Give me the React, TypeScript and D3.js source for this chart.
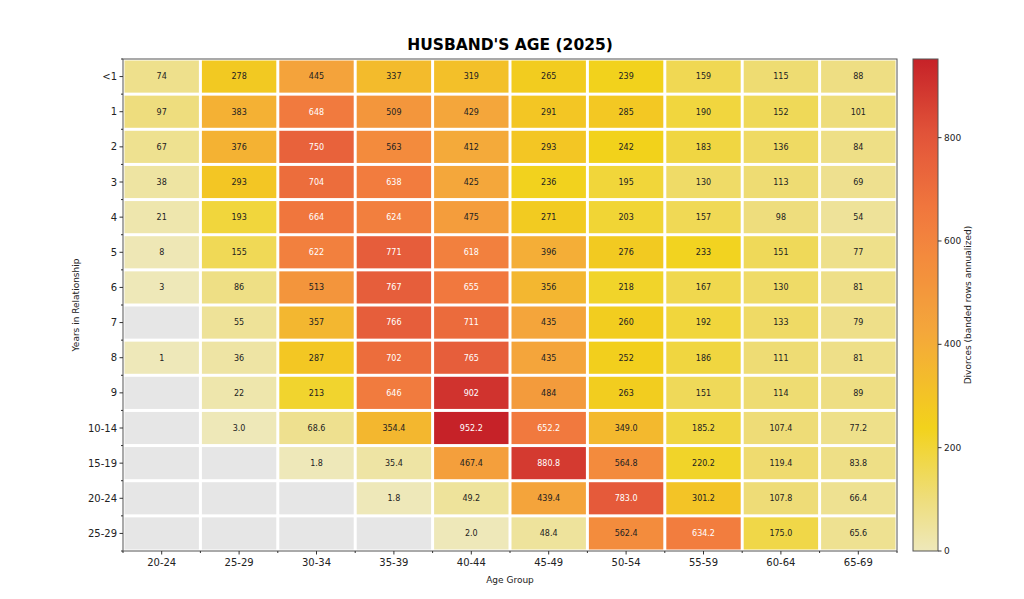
import React from 'react';
import * as d3 from 'd3';

const AGE_GROUPS = ['20-24', '25-29', '30-34', '35-39', '40-44', '45-49', '50-54', '55-59', '60-64', '65-69'];
const YEARS = ['<1', '1', '2', '3', '4', '5', '6', '7', '8', '9', '10-14', '15-19', '20-24', '25-29'];
// banded rows are annualized and shown with one decimal
const BANDED = ['10-14', '15-19', '20-24', '25-29'];

const VALUES: (number | null)[][] = [
  [74, 278, 445, 337, 319, 265, 239, 159, 115, 88],
  [97, 383, 648, 509, 429, 291, 285, 190, 152, 101],
  [67, 376, 750, 563, 412, 293, 242, 183, 136, 84],
  [38, 293, 704, 638, 425, 236, 195, 130, 113, 69],
  [21, 193, 664, 624, 475, 271, 203, 157, 98, 54],
  [8, 155, 622, 771, 618, 396, 276, 233, 151, 77],
  [3, 86, 513, 767, 655, 356, 218, 167, 130, 81],
  [null, 55, 357, 766, 711, 435, 260, 192, 133, 79],
  [1, 36, 287, 702, 765, 435, 252, 186, 111, 81],
  [null, 22, 213, 646, 902, 484, 263, 151, 114, 89],
  [null, 3.0, 68.6, 354.4, 952.2, 652.2, 349.0, 185.2, 107.4, 77.2],
  [null, null, 1.8, 35.4, 467.4, 880.8, 564.8, 220.2, 119.4, 83.8],
  [null, null, null, 1.8, 49.2, 439.4, 783.0, 301.2, 107.8, 66.4],
  [null, null, null, null, 2.0, 48.4, 562.4, 634.2, 175.0, 65.6],
];

const CBAR_TICKS = [0, 200, 400, 600, 800];

const FONT = 'DejaVu Sans, sans-serif';

export default function App() {
  const width = 1024;
  const height = 599;
  const margin = { top: 59, left: 123, right: 897, bottom: 551 };

  const maxVal = d3.max(VALUES.flat(), d => d ?? 0) as number;

  const x = d3.scaleBand<string>().domain(AGE_GROUPS).range([margin.left, margin.right]);
  const y = d3.scaleBand<string>().domain(YEARS).range([margin.top, margin.bottom]);

  const color = d3
    .scaleLinear<string>()
    .domain([0, 100, 240, 420, 640, 800, maxVal])
    .range(['#eee8ba', '#eedd7c', '#f2d21b', '#f4a83b', '#f27c3e', '#e3563a', '#c62228'])
    .interpolate(d3.interpolateRgb)
    .clamp(true);

  const cbX = 913;
  const cbW = 25;
  const cbY = d3.scaleLinear().domain([0, maxVal]).range([margin.bottom, margin.top]);
  const gradStops = d3.range(0, 1.0001, 0.05);

  const gap = 1.5;
  const bw = x.bandwidth();
  const bh = y.bandwidth();

  const cells: React.ReactNode[] = [];
  YEARS.forEach((row, i) => {
    AGE_GROUPS.forEach((col, j) => {
      const v = VALUES[i][j];
      const cx = x(col)!;
      const cy = y(row)!;
      cells.push(
        <rect
          key={`r${i}-${j}`}
          x={cx + gap}
          y={cy + gap}
          width={bw - 2 * gap}
          height={bh - 2 * gap}
          fill={v == null ? '#e6e6e6' : color(v)}
        />
      );
      if (v != null) {
        const label = BANDED.includes(row) ? v.toFixed(1) : String(Math.round(v));
        cells.push(
          <text
            key={`t${i}-${j}`}
            x={cx + bw / 2}
            y={cy + bh / 2}
            dy="0.35em"
            textAnchor="middle"
            fontSize={8}
            fill={v >= 600 ? '#ffffff' : '#222222'}
          >
            {label}
          </text>
        );
      }
    });
  });

  const xBounds = d3.range(AGE_GROUPS.length + 1).map(k => margin.left + k * bw);
  const yBounds = d3.range(YEARS.length + 1).map(k => margin.top + k * bh);

  return (
    <svg
      width={width}
      height={height}
      style={{ position: 'absolute', left: 0, top: 0, background: '#fff' }}
      fontFamily={FONT}
    >
      <defs>
        <linearGradient id="cbar" x1="0" y1="1" x2="0" y2="0">
          {gradStops.map(t => (
            <stop key={t} offset={t} stopColor={color(t * maxVal)} />
          ))}
        </linearGradient>
      </defs>

      <text x={510} y={50} textAnchor="middle" fontSize={15.5} fontWeight="bold" fill="#000">
        HUSBAND'S AGE (2025)
      </text>

      {cells}

      <rect
        x={margin.left}
        y={margin.top}
        width={margin.right - margin.left}
        height={margin.bottom - margin.top}
        fill="none"
        stroke="#555"
        strokeWidth={1}
      />

      {/* x axis */}
      {AGE_GROUPS.map(g => (
        <g key={g} transform={`translate(${x(g)! + bw / 2},${margin.bottom})`}>
          <line y2={3.5} stroke="#333" />
          <text y={15} textAnchor="middle" fontSize={10} fill="#222">
            {g}
          </text>
        </g>
      ))}
      {xBounds.map(b => (
        <line key={`xm${b}`} x1={b} x2={b} y1={margin.bottom} y2={margin.bottom + 2} stroke="#333" />
      ))}
      <text x={510} y={583} textAnchor="middle" fontSize={9} fill="#222">
        Age Group
      </text>

      {/* y axis */}
      {YEARS.map(r => (
        <g key={r} transform={`translate(${margin.left},${y(r)! + bh / 2})`}>
          <line x2={-3.5} stroke="#333" />
          <text x={-6} dy="0.35em" textAnchor="end" fontSize={10} fill="#222">
            {r}
          </text>
        </g>
      ))}
      {yBounds.map(b => (
        <line key={`ym${b}`} x1={margin.left} x2={margin.left - 2} y1={b} y2={b} stroke="#333" />
      ))}
      <text
        transform={`translate(79,${(margin.top + margin.bottom) / 2}) rotate(-90)`}
        textAnchor="middle"
        fontSize={9}
        fill="#222"
      >
        Years in Relationship
      </text>

      {/* colorbar */}
      <rect
        x={cbX}
        y={margin.top}
        width={cbW}
        height={margin.bottom - margin.top}
        fill="url(#cbar)"
        stroke="#555"
        strokeWidth={1}
      />
      {CBAR_TICKS.map(t => (
        <g key={t} transform={`translate(${cbX + cbW},${cbY(t)})`}>
          <line x2={3.5} stroke="#333" />
          <text x={6} dy="0.35em" fontSize={9} fill="#222">
            {t}
          </text>
        </g>
      ))}
      <text
        transform={`translate(971,${(margin.top + margin.bottom) / 2}) rotate(-90)`}
        textAnchor="middle"
        fontSize={9}
        fill="#222"
      >
        Divorces (banded rows annualized)
      </text>
    </svg>
  );
}
